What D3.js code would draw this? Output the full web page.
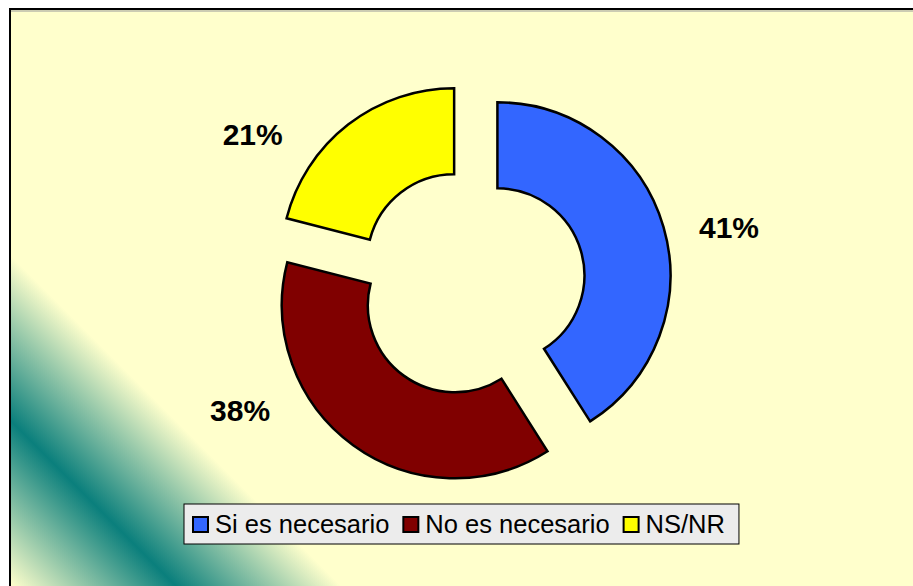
<!DOCTYPE html>
<html>
<head>
<meta charset="utf-8">
<script src="https://cdn.jsdelivr.net/npm/d3@7"></script>
<style>
    body { margin: 0; background: #fff; }
    svg { display: block; }
</style>
</head>
<body>
<div id="chart"></div>
<script>
// data
const categories = ["Si es necesario", "No es necesario", "NS/NR"];
const values = [41, 38, 21];
const colors = ["#3366FF", "#800000", "#FFFF00"];

const width = 913, height = 586;
const cx = 471, cy = 283;
const outerR = 173, innerR = 87;
const explode = 27.5;
const labelR = 264;
// excel moves the labels a bit off the bisector
const labelTurn = [4, 25, -18];

const svg = d3.select("#chart").append("svg")
    .attr("width", width).attr("height", height);

// background gradient (teal band in the lower left corner)
const defs = svg.append("defs");
const grad = defs.append("linearGradient")
    .attr("id", "bg")
    .attr("gradientUnits", "userSpaceOnUse")
    .attr("x1", 205).attr("y1", 450)
    .attr("x2", 40).attr("y2", 615);
grad.append("stop").attr("offset", 0).attr("stop-color", "#FFFFCC");
grad.append("stop").attr("offset", 0.5).attr("stop-color", "#0A7F7C");
grad.append("stop").attr("offset", 1).attr("stop-color", "#FFFFCC");

svg.append("rect")
    .attr("x", 10).attr("y", 9)
    .attr("width", width + 20).attr("height", height + 20)
    .attr("fill", "url(#bg)")
    .attr("stroke", "#000")
    .attr("stroke-width", 2);
svg.append("line")
    .attr("x1", 11).attr("x2", width).attr("y1", 11).attr("y2", 11)
    .attr("stroke", "#999").attr("stroke-width", 1);

const pie = d3.pie().sort(null).value(d => d);
const arcs = pie(values);
const arc = d3.arc().innerRadius(innerR).outerRadius(outerR);

const g = svg.append("g").attr("transform", "translate(" + cx + "," + cy + ")");

g.selectAll("path.slice")
    .data(arcs)
    .enter()
    .append("path")
    .attr("class", "slice")
    .attr("d", arc)
    .attr("fill", (d, i) => colors[i])
    .attr("stroke", "#000")
    .attr("stroke-width", 2.5)
    .attr("stroke-linejoin", "miter")
    .attr("transform", function(d) {
        const a = (d.startAngle + d.endAngle) / 2;
        return "translate(" + (explode * Math.sin(a)) + "," + (-explode * Math.cos(a)) + ")";
    });

g.selectAll("text.lbl")
    .data(arcs)
    .enter()
    .append("text")
    .attr("class", "lbl")
    .attr("x", (d, i) => labelR * Math.sin((d.startAngle + d.endAngle) / 2 + labelTurn[i] * Math.PI / 180))
    .attr("y", (d, i) => -labelR * Math.cos((d.startAngle + d.endAngle) / 2 + labelTurn[i] * Math.PI / 180) + 10.5)
    .attr("text-anchor", "middle")
    .style("font-family", "'Liberation Sans', Arial, sans-serif")
    .style("font-weight", "bold")
    .style("font-size", "30px")
    .text(d => d.data + "%");

// legend
const legend = svg.append("g").attr("class", "legend");
const legendBox = legend.append("rect")
    .attr("x", 184).attr("y", 504)
    .attr("height", 40)
    .attr("fill", "#ECECEC")
    .attr("stroke", "#000")
    .attr("stroke-width", 1);

let lx = 193;
categories.forEach(function(c, i) {
    legend.append("rect")
        .attr("x", lx).attr("y", 517)
        .attr("width", 15).attr("height", 15)
        .attr("fill", colors[i])
        .attr("stroke", "#000")
        .attr("stroke-width", 2);
    const t = legend.append("text")
        .attr("x", lx + 22).attr("y", 533)
        .style("font-family", "'Liberation Sans', Arial, sans-serif")
        .style("font-size", "25.5px")
        .text(c);
    lx += 22 + t.node().getComputedTextLength() + 14;
});
legendBox.attr("width", lx - 184);
</script>
</body>
</html>
